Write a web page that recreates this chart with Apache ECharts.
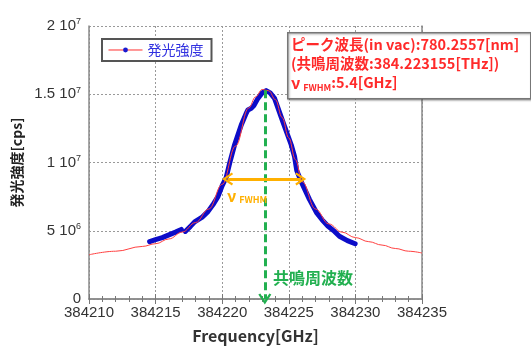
<!DOCTYPE html>
<html>
<head>
<meta charset="utf-8">
<script src="https://cdn.jsdelivr.net/npm/echarts@6/dist/echarts.min.js"></script>
<style>
  html, body { margin: 0; padding: 0; background: #fff; }
  #chart { width: 531px; height: 347px; }
</style>
</head>
<body>
<div id="chart"></div>
<script>
  // 測定データ（青）: [周波数GHz, 発光強度cps]、null で線を切る
  const measured = [
    [384214.55, 4.2e6], [384215.0, 4.35e6], [384215.5, 4.5e6], [384216.0, 4.7e6],
    [384216.5, 4.9e6], [384216.93, 5.1e6], null,
    [384217.23, 4.95e6], [384217.6, 5.3e6], [384217.93, 5.65e6], [384218.5, 6.0e6],
    [384218.93, 6.4e6], [384219.3, 6.9e6], [384219.68, 7.5e6], [384220.0, 8.3e6],
    [384220.3, 8.9e6], [384220.56, 9.95e6], [384220.93, 1.13e7], [384221.43, 1.275e7],
    [384221.8, 1.36e7], [384221.93, 1.385e7], [384222.18, 1.398e7], [384222.4, 1.42e7],
    [384222.68, 1.47e7], [384223.0, 1.51e7], [384223.3, 1.527e7], [384223.6, 1.51e7],
    [384223.93, 1.47e7], [384224.55, 1.3e7], [384225.18, 1.13e7], [384225.43, 1.044e7],
    [384225.6, 9.4e6], [384225.93, 8.6e6], [384226.55, 7.3e6], [384227.1, 6.3e6],
    [384227.5, 5.8e6], [384227.93, 5.35e6], [384228.43, 4.95e6], [384228.8, 4.6e6],
    [384229.4, 4.28e6], [384229.98, 4.05e6]
  ]
  // フィット曲線（赤）
  const fitted = [
    [384210, 3.24e6], [384212, 3.5e6], [384214, 3.85e6], [384215, 4.05e6],
    [384216, 4.4e6], [384217, 4.9e6], [384218, 5.6e6], [384219, 6.6e6],
    [384220, 8.4e6], [384221, 1.12e7], [384222, 1.4e7], [384222.5, 1.48e7],
    [384223, 1.535e7], [384223.5, 1.525e7], [384224, 1.46e7], [384224.5, 1.33e7],
    [384225, 1.18e7], [384225.5, 1.02e7], [384226, 8.6e6], [384227, 6.6e6],
    [384228, 5.5e6], [384229, 4.9e6], [384230, 4.5e6], [384231, 4.2e6],
    [384232, 3.95e6], [384233, 3.7e6], [384234, 3.5e6], [384235, 3.37e6]
  ]
  // 共鳴周波数と FWHM の矢印
  const peak = [384223.2, 1.53e7]
  const fwhm = [384220.4, 384225.9, 8.8e6]
  // 目盛ラベル
  const xTicks = [384210, 384235, 5]
  const yTickLabels = {
    0: ['0', ''],
    5000000: ['5 10', '6'],
    10000000: ['1 10', '7'],
    15000000: ['1.5 10', '7'],
    20000000: ['2 10', '7']
  }

  const chevron = 'path://M0,9 L6,0 L12,9 L10.2,10 L6,3.6 L1.8,10 Z'
  const jp = '"Noto Sans CJK JP", "Liberation Sans", sans-serif'
  const frame = '#8a8a8a'

  const chart = echarts.init(document.getElementById('chart'))
  chart.setOption({
    animation: false,
    textStyle: { fontFamily: '"Liberation Sans", Arial, sans-serif' },
    grid: { left: 89, right: 109, top: 26, bottom: 48, outerBoundsMode: 'none' },
    legend: {
      left: 102, top: 39, width: 100, height: 24,
      padding: [4, 8, 4, 6],
      borderColor: '#555', borderWidth: 2,
      backgroundColor: '#fff',
      itemWidth: 34, itemHeight: 6,
      itemGap: 4,
      data: [{
        name: '発光強度',
        itemStyle: { color: '#1a1ad0' },
        lineStyle: { color: '#ff3030', width: 1 }
      }],
      textStyle: { color: '#3030e0', fontSize: 14, fontFamily: jp, padding: [0, 0, 0, 0] }
    },
    xAxis: [{
      type: 'value', min: xTicks[0], max: xTicks[1], interval: xTicks[2],
      name: 'Frequency[GHz]', nameLocation: 'middle', nameGap: 29,
      nameTextStyle: { fontSize: 16, fontWeight: 'bold', color: '#333', fontFamily: jp },
      axisLine: { lineStyle: { color: frame, width: 1.5 } },
      axisTick: { inside: true, length: 5, lineStyle: { color: '#777' } },
      minorTick: { show: true, splitNumber: 5, length: 3, lineStyle: { color: '#777' } },
      axisLabel: { fontSize: 15, color: '#333', margin: 6, formatter: v => String(v) },
      splitLine: { show: true, lineStyle: { color: '#999', type: [2, 2] } }
    }, {
      type: 'value', position: 'top', min: xTicks[0], max: xTicks[1], interval: xTicks[2],
      axisLine: { show: true, lineStyle: { color: frame, width: 1.5 } },
      axisTick: { inside: true, length: 5, lineStyle: { color: '#777' } },
      minorTick: { show: true, splitNumber: 5, length: 3, lineStyle: { color: '#777' } },
      axisLabel: { show: false }, splitLine: { show: false }
    }],
    yAxis: [{
      type: 'value', min: 0, max: 2e7, interval: 5e6,
      name: '発光強度[cps]', nameLocation: 'middle', nameGap: 62, nameRotate: 90,
      nameTextStyle: { fontSize: 14, fontWeight: 'bold', color: '#222', fontFamily: jp },
      axisLine: { show: true, lineStyle: { color: frame, width: 1.5 } },
      axisTick: { show: false },
      axisLabel: {
        margin: 8, fontSize: 15, color: '#333',
        formatter: v => {
          const t = yTickLabels[v]
          return t[1] ? t[0] + '{sup|' + t[1] + '}' : t[0]
        },
        rich: { sup: { fontSize: 9, color: '#333', verticalAlign: 'top', padding: [0, 0, 8, 0] } }
      },
      splitLine: { show: true, lineStyle: { color: '#999', type: [2, 2] } }
    }, {
      type: 'value', position: 'right', min: 0, max: 2e7, interval: 5e6,
      axisLine: { show: true, lineStyle: { color: frame, width: 1.5 } },
      axisTick: { show: false }, axisLabel: { show: false }, splitLine: { show: false }
    }],
    series: [{
      name: '発光強度',
      type: 'line',
      data: fitted,
      smooth: 0.4,
      smoothMonotone: 'x',
      showSymbol: false,
      symbol: 'circle',
      symbolSize: 5,
      lineStyle: { color: '#ff4040', width: 1 },
      itemStyle: { color: '#1a1ad0' },
      z: 3
    }, {
      name: 'measured',
      type: 'line',
      data: measured,
      showSymbol: false,
      connectNulls: false,
      lineStyle: { color: '#0c0cc8', width: 5, cap: 'round', join: 'round' },
      z: 2,
      markLine: {
        silent: true,
        label: { show: false },
        data: [
          [
            { coord: [peak[0], peak[1]], symbol: 'none' },
            { coord: [peak[0], 0], symbol: chevron, symbolSize: [13, 11] }
          ],
          [
            { coord: [fwhm[0], fwhm[2]], symbol: chevron, symbolSize: [13, 11],
              lineStyle: { color: '#ffb000', type: 'solid', width: 3 } },
            { coord: [fwhm[1], fwhm[2]], symbol: chevron, symbolSize: [13, 11],
              lineStyle: { color: '#ffb000', type: 'solid', width: 3 } }
          ]
        ],
        lineStyle: { color: '#22b050', type: [8, 4], width: 3 }
      }
    }],
    graphic: [
      {
        type: 'rect', left: 287, top: 32, z: 100,
        shape: { width: 243, height: 66 },
        style: { fill: '#fff', stroke: '#777', lineWidth: 1.5, shadowBlur: 2, shadowColor: 'rgba(0,0,0,0.3)', shadowOffsetX: 1, shadowOffsetY: 1 }
      },
      {
        type: 'text', left: 291, top: 35, z: 101,
        style: {
          text: 'ピーク波長(in vac):780.2557[nm]\n(共鳴周波数:384.223155[THz])\n{v|ν}{sub|FWHM}:5.4[GHz]',
          fill: '#ff2a2a', fontSize: 14.5, fontWeight: 'bold', fontFamily: jp, lineHeight: 19,
          rich: {
            v: { fill: '#ff2a2a', fontSize: 16, fontWeight: 'bold', fontFamily: jp, lineHeight: 19 },
            sub: { fill: '#ff2a2a', fontSize: 9, fontWeight: 'bold', fontFamily: jp, lineHeight: 19, verticalAlign: 'bottom', padding: [6, 0, 0, 3] }
          }
        }
      },
      {
        type: 'text', left: 227, top: 188, z: 101,
        style: {
          text: '{v|ν}{sub|FWHM}',
          rich: {
            v: { fill: '#ffb000', fontSize: 16, fontWeight: 'bold', fontFamily: jp },
            sub: { fill: '#ffb000', fontSize: 9, fontWeight: 'bold', fontFamily: jp, padding: [8, 0, 0, 3] }
          }
        }
      },
      {
        type: 'text', left: 273, top: 270, z: 101,
        style: { text: '共鳴周波数', fill: '#22b050', fontSize: 16, fontFamily: jp, fontWeight: 'bold' }
      }
    ]
  })
</script>
</body>
</html>
